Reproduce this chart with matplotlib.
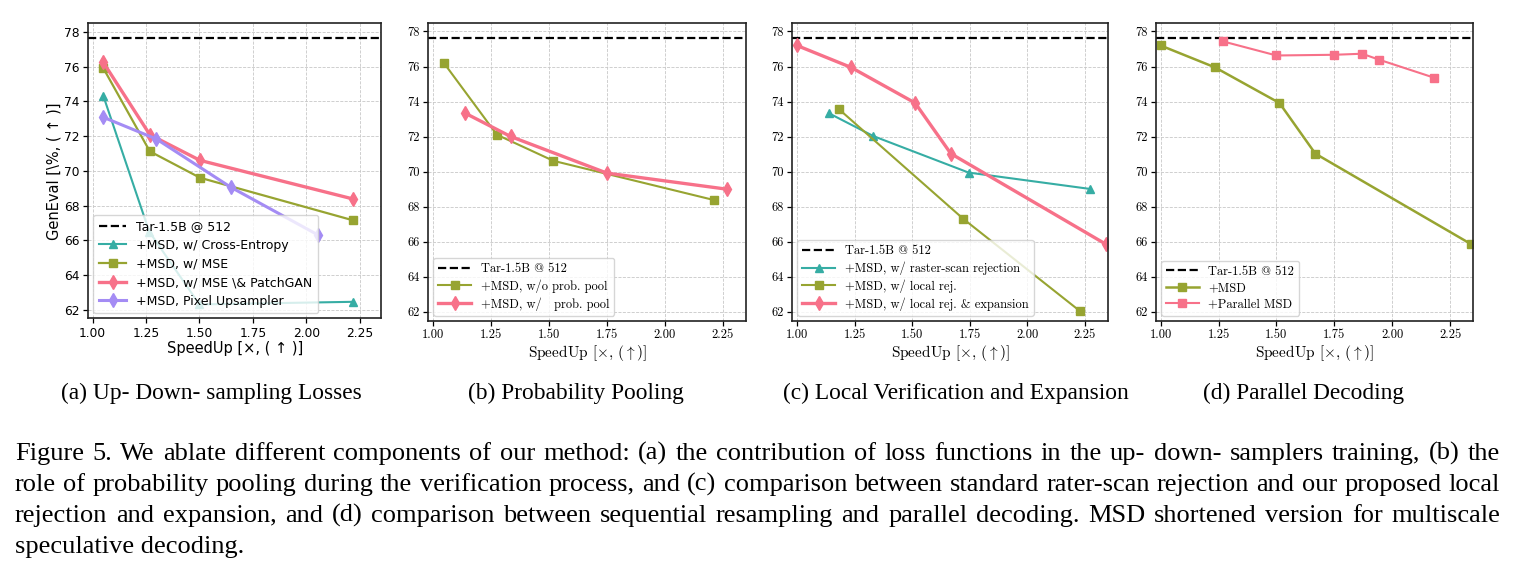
import numpy as np
import matplotlib
matplotlib.use('Agg')
import matplotlib.pyplot as plt

plt.rcParams['mathtext.fontset'] = 'cm'
plt.rcParams['axes.formatter.use_mathtext'] = True

# colours (seaborn husl-8 picks)
PINK = '#f77189'
OLIVE = '#97a431'
TEAL = '#36ada4'
LAV = '#a48cf4'

baseline = 77.64

# (a) up/down sampling losses
a_ce_x = [1.05, 1.265, 1.50, 2.218]
a_ce_y = [74.33, 66.5, 62.3, 62.45]
a_mse_x = [1.05, 1.268, 1.503, 2.218]
a_mse_y = [75.92, 71.12, 69.6, 67.15]
a_gan_x = [1.05, 1.268, 1.503, 2.218]
a_gan_y = [76.25, 72.08, 70.6, 68.38]
a_pix_x = [1.047, 1.299, 1.646, 2.054]
a_pix_y = [73.1, 71.83, 69.06, 66.31]

# (b) probability pooling
b_nopool_x = [1.048, 1.276, 1.52, 2.214]
b_nopool_y = [76.19, 72.11, 70.62, 68.38]
b_pool_x = [1.139, 1.335, 1.751, 2.27]
b_pool_y = [73.34, 72.01, 69.92, 69.0]

# (c) local verification and expansion
c_raster_x = [1.138, 1.332, 1.745, 2.27]
c_raster_y = [73.34, 72.03, 69.95, 69.02]
c_local_x = [1.182, 1.722, 2.229]
c_local_y = [73.57, 67.31, 62.04]
c_expand_x = [1.0, 1.235, 1.513, 1.668, 2.34]
c_expand_y = [77.2, 75.95, 73.92, 71.03, 65.87]

# (d) parallel decoding
d_msd_x = c_expand_x
d_msd_y = c_expand_y
d_par_x = [1.27, 1.50, 1.75, 1.87, 1.941, 2.179]
d_par_y = [77.43, 76.63, 76.67, 76.73, 76.40, 75.37]

xticks = [1.00, 1.25, 1.50, 1.75, 2.00, 2.25]
yticks = [62, 64, 66, 68, 70, 72, 74, 76, 78]

subcaps = ['(a) Up- Down- sampling Losses', '(b) Probability Pooling',
           '(c) Local Verification and Expansion', '(d) Parallel Decoding']
subcap_x = [211, 576, 956, 1304]

caption = [
    'Figure 5. We ablate different components of our method: (a) the contribution of loss functions in the up- down- samplers training, (b) the',
    'role of probability pooling during the verification process, and (c) comparison between standard rater-scan rejection and our proposed local',
    'rejection and expansion, and (d) comparison between sequential resampling and parallel decoding.  MSD shortened version for multiscale',
    'speculative decoding.',
]

W, H = 1516, 581
fig = plt.figure(figsize=(W / 100, H / 100), dpi=100)


def box(l, r, t, b):
    return [l / W, 1 - b / H, (r - l) / W, (b - t) / H]


def style_axes(ax, fam, size):
    ax.set_xlim(0.98, 2.35)
    ax.set_ylim(61.5, 78.5)
    ax.set_xticks(xticks)
    ax.set_yticks(yticks)
    ax.set_xticklabels(['%.2f' % v for v in xticks], family=fam, fontsize=size)
    ax.set_yticklabels([str(v) for v in yticks], family=fam, fontsize=size)
    ax.grid(True, color='#c8c8c8', linestyle='--', linewidth=0.6)
    ax.set_axisbelow(True)
    for s in ax.spines.values():
        s.set_linewidth(1.2)
        s.set_color('#222222')
    ax.tick_params(length=3.5, width=0.9, pad=2.5)
    ax.axhline(baseline, color='black', linestyle='--', linewidth=1.6, label='Tar-1.5B @ 512')


sans = ['DejaVu Sans']
serif = ['cmr10', 'DejaVu Serif']

# panel a
ax = fig.add_axes(box(88.3, 381, 23.3, 318.3))
style_axes(ax, sans, 8.8)
ax.plot(a_ce_x, a_ce_y, color=TEAL, marker='^', ms=6, lw=1.5, label='+MSD, w/ Cross-Entropy')
ax.plot(a_mse_x, a_mse_y, color=OLIVE, marker='s', ms=6, lw=1.6, label='+MSD, w/ MSE')
ax.plot(a_gan_x, a_gan_y, color=PINK, marker='d', ms=7, lw=2.4, label='+MSD, w/ MSE \\& PatchGAN')
ax.plot(a_pix_x, a_pix_y, color=LAV, marker='d', ms=7, lw=2.2, label='+MSD, Pixel Upsampler')
ax.set_xlabel('SpeedUp [×, ( ↑ )]', family=sans, fontsize=10.5, labelpad=1)
ax.set_ylabel('GenEval [\\%, ( ↑ )]', family=sans, fontsize=10.5, labelpad=2)
ax.legend(loc='lower left', prop={'family': sans, 'size': 9}, framealpha=0.8,
          handlelength=2.2, borderpad=0.45, labelspacing=0.45, borderaxespad=0.4)

# panel b
ax = fig.add_axes(box(428.3, 745.7, 22.7, 320.7))
style_axes(ax, serif, 9)
ax.plot(b_nopool_x, b_nopool_y, color=OLIVE, marker='s', ms=6, lw=1.5, label='+MSD, w/o prob. pool')
ax.plot(b_pool_x, b_pool_y, color=PINK, marker='d', ms=7, lw=2.4, label='+MSD, w/   prob. pool')
ax.set_xlabel('SpeedUp [$\\times$, ($\\uparrow$)]', family=serif, fontsize=11, labelpad=1)
ax.legend(loc='lower left', prop={'family': serif, 'size': 9}, framealpha=0.8,
          handlelength=2.6, borderpad=0.4, labelspacing=0.35, borderaxespad=0.4)

# panel c
ax = fig.add_axes(box(792.3, 1108, 22.7, 320.7))
style_axes(ax, serif, 9)
ax.plot(c_raster_x, c_raster_y, color=TEAL, marker='^', ms=6, lw=1.5, label='+MSD, w/ raster-scan rejection')
ax.plot(c_local_x, c_local_y, color=OLIVE, marker='s', ms=6, lw=1.5, label='+MSD, w/ local rej.')
ax.plot(c_expand_x, c_expand_y, color=PINK, marker='d', ms=7, lw=2.4, label='+MSD, w/ local rej. & expansion')
ax.set_xlabel('SpeedUp [$\\times$, ($\\uparrow$)]', family=serif, fontsize=11, labelpad=1)
ax.legend(loc='lower left', prop={'family': serif, 'size': 9}, framealpha=0.8,
          handlelength=2.6, borderpad=0.4, labelspacing=0.35, borderaxespad=0.4)

# panel d
ax = fig.add_axes(box(1156, 1473.3, 22.7, 320.7))
style_axes(ax, serif, 9)
ax.plot(d_msd_x, d_msd_y, color=OLIVE, marker='s', ms=6, lw=1.8, label='+MSD')
ax.plot(d_par_x, d_par_y, color=PINK, marker='s', ms=6, lw=1.5, label='+Parallel MSD')
ax.set_xlabel('SpeedUp [$\\times$, ($\\uparrow$)]', family=serif, fontsize=11, labelpad=1)
ax.legend(loc='lower left', prop={'family': serif, 'size': 9}, framealpha=0.8,
          handlelength=2.6, borderpad=0.4, labelspacing=0.35, borderaxespad=0.4)

# sub captions
for s, x in zip(subcaps, subcap_x):
    fig.text(x / W, 1 - 399 / H, s, ha='center', va='baseline',
             family='Liberation Serif', fontsize=16.8)

# main caption, justified word by word
renderer = fig.canvas.get_renderer()
cap_size = 19.0
x0, x1 = 15, 1500
baselines = [460, 491, 522, 553]
for i, line in enumerate(caption):
    words = line.split()
    y = 1 - baselines[i] / H
    if i == len(caption) - 1:
        fig.text(x0 / W, y, line, ha='left', va='baseline',
                 family='Liberation Serif', fontsize=cap_size)
        continue
    texts = [fig.text(0, y, w, ha='left', va='baseline',
                      family='Liberation Serif', fontsize=cap_size) for w in words]
    widths = [t.get_window_extent(renderer).width for t in texts]
    gap = (x1 - x0 - sum(widths)) / (len(words) - 1)
    x = x0
    for t, w in zip(texts, widths):
        t.set_x(x / W)
        x += w + gap

fig.savefig('out.png', dpi=100)
